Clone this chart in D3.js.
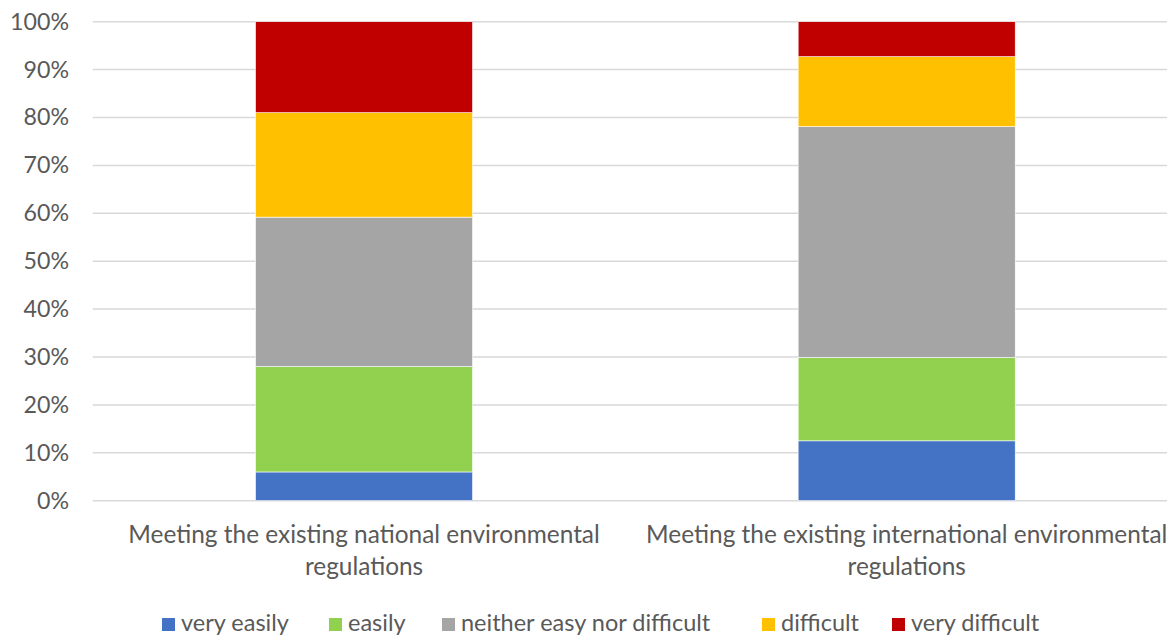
<!DOCTYPE html>
<html>
<head>
<meta charset="utf-8">
<script src="https://cdn.jsdelivr.net/npm/d3@7"></script>
<style>
  html, body { margin: 0; padding: 0; background: #fff; }
  svg { display: block; }
  text { font-family: Lato, "Open Sans", sans-serif; fill: #595959; }
</style>
</head>
<body>
<svg id="chart" width="1167" height="637"></svg>
<script>
// Stacked 100% bars: ease of meeting environmental regulations
const categories = [
  ["Meeting the existing national environmental", "regulations"],
  ["Meeting the existing international environmental", "regulations"]
];
const seriesNames = ["very easily", "easily", "neither easy nor difficult", "difficult", "very difficult"];
const seriesColors = ["#4472C4", "#92D050", "#A5A5A5", "#FFC000", "#C00000"];
// percentages per category, in series order
const veryEasily = [6.0, 12.5];
const easily = [22.0, 17.4];
const neither = [31.2, 48.2];
const difficult = [21.8, 14.6];
const veryDifficult = [19.0, 7.3];
const yTicks = [0, 10, 20, 30, 40, 50, 60, 70, 80, 90, 100];

const svg = d3.select("#chart");
const margin = { left: 92.7, right: -11, top: 21.7, bottom: 136.3 };
const W = 1167, H = 637;

const keys = categories.map((c, i) => i);
const rows = keys.map(i => ({
  idx: i,
  "very easily": veryEasily[i],
  "easily": easily[i],
  "neither easy nor difficult": neither[i],
  "difficult": difficult[i],
  "very difficult": veryDifficult[i]
}));

const x = d3.scaleBand()
  .domain(keys)
  .range([margin.left, W - margin.right])
  .paddingInner(0.6)
  .paddingOuter(0.3);

const y = d3.scaleLinear()
  .domain([0, 100])
  .range([H - margin.bottom, margin.top]);

// horizontal gridlines
svg.append("g")
  .selectAll("line")
  .data(yTicks)
  .join("line")
  .attr("x1", margin.left)
  .attr("x2", W)
  .attr("y1", d => y(d))
  .attr("y2", d => y(d))
  .attr("stroke", "#D9D9D9")
  .attr("stroke-width", 1.5);

// y axis labels
const yAxis = d3.axisLeft(y)
  .tickValues(yTicks)
  .tickFormat(d => d + "%")
  .tickSize(0)
  .tickPadding(0);
const gy = svg.append("g")
  .attr("transform", `translate(69,0)`)
  .call(yAxis);
gy.select(".domain").remove();
gy.selectAll("text")
  .attr("font-size", 23.2)
  .attr("font-family", "Lato, 'Open Sans', sans-serif")
  .attr("fill", "#595959");

// stacked bars
const stack = d3.stack().keys(seriesNames);
const layers = stack(rows);
svg.append("g")
  .selectAll("g")
  .data(layers)
  .join("g")
  .attr("fill", (d, i) => seriesColors[i])
  .selectAll("rect")
  .data(d => d)
  .join("rect")
  .attr("x", d => x(d.data.idx))
  .attr("width", x.bandwidth())
  .attr("y", d => y(d[1]))
  .attr("height", d => y(d[0]) - y(d[1]))
  .attr("stroke", "#ffffff")
  .attr("stroke-width", 0.6);

// category labels (two lines each)
const cat = svg.append("g");
categories.forEach((lines, i) => {
  const cx = x(i) + x.bandwidth() / 2;
  const t = cat.append("text")
    .attr("text-anchor", "middle")
    .attr("font-size", 24.4);
  lines.forEach((ln, j) => {
    t.append("tspan")
      .attr("x", cx)
      .attr("y", 543 + j * 32)
      .text(ln);
  });
});

// legend
const legendX = [162, 329, 442, 762, 892];
const lg = svg.append("g");
seriesNames.forEach((name, i) => {
  const g = lg.append("g").attr("transform", `translate(${legendX[i]},623)`);
  g.append("rect")
    .attr("x", 0).attr("y", -5)
    .attr("width", 13).attr("height", 13)
    .attr("fill", seriesColors[i]);
  g.append("text")
    .attr("x", 19).attr("y", 0)
    .attr("dy", "0.35em")
    .attr("font-size", 23.5)
    .text(name);
});
</script>
</body>
</html>
